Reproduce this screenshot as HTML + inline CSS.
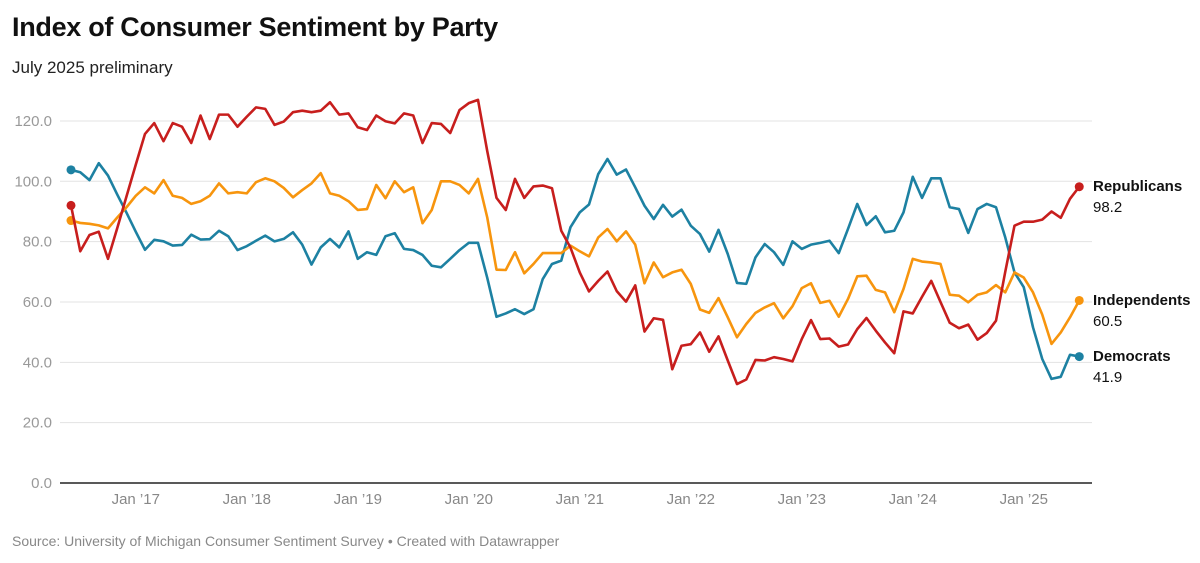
<!DOCTYPE html>
<html><head><meta charset="utf-8"><style>
body{margin:0;background:#fff;font-family:"Liberation Sans",sans-serif;}
#wrap{position:relative;width:1200px;height:563px;overflow:hidden;}
h1{position:absolute;left:12px;top:12px;margin:0;font-size:27px;font-weight:bold;color:#111;letter-spacing:-0.3px}
.sub{position:absolute;left:12px;top:58px;font-size:17px;color:#222}
.src{position:absolute;left:12px;top:533px;font-size:14px;color:#888}
</style></head><body>
<div id="wrap">
<h1>Index of Consumer Sentiment by Party</h1>
<div class="sub">July 2025 preliminary</div>
<svg id="chart" width="1200" height="563" style="position:absolute;left:0;top:0"></svg>
<div class="src">Source: University of Michigan Consumer Sentiment Survey • Created with Datawrapper</div>
</div>
<script>
const republicans=[92,76.8,82.2,83.3,74.3,84.5,95,105.5,115.7,119.3,113.3,119.3,118.1,112.7,121.8,114,122.1,122.1,
118.1,121.4,124.5,124,118.7,119.8,122.9,123.4,122.9,123.4,126.2,122.1,122.5,117.9,117,121.8,119.9,119.2,122.5,
121.8,112.7,119.3,119,116,123.6,125.9,127,110,94.5,90.5,100.8,94.5,98.3,98.6,97.7,83.6,78,
69.8,63.5,67,70.1,63.6,60.1,65.5,50.2,54.6,54.1,37.7,45.5,46,49.9,43.5,48.6,40.6,32.8,34.3,
40.8,40.6,41.7,41.1,40.3,47.7,54,47.7,47.9,45.2,45.9,51,54.7,50.5,46.6,43,56.9,56.2,
61.7,67,60,53.1,51.3,52.5,47.5,49.7,53.8,70,85.3,86.6,86.6,87.3,90,87.9,94.2,98.2];
const independents=[87,86.2,85.9,85.4,84.4,88,91.4,95.2,98,96,100.4,95.2,94.5,92.5,93.4,95.2,99.3,96,
96.4,96,99.7,101,100,97.8,94.7,97.1,99.3,102.7,96,95.2,93.4,90.5,90.8,98.8,94.4,100,96.4,
98,86.1,90.5,100,100,98.8,96,100.8,88,70.7,70.6,76.5,69.5,72.6,76.2,76.2,76.2,78.7,
76.8,75.1,81.4,84.2,80.1,83.4,79,66.2,73.1,68.2,69.8,70.7,66,57.5,56.4,61.3,54.9,48.3,52.7,
56.4,58.2,59.6,54.6,58.6,64.6,66.2,59.7,60.4,55.1,61,68.5,68.7,64,63.2,56.6,64.3,74.3,
73.4,73.1,72.6,62.4,62.1,59.9,62.4,63.2,65.6,63.2,69.8,68.1,63.2,55.8,46.1,49.9,54.9,60.5];
const democrats=[103.8,103,100.4,106,101.9,95.6,89.6,83.3,77.3,80.6,80.1,78.7,78.9,82.3,80.7,80.8,83.6,81.8,
77.2,78.5,80.3,82,80.1,80.9,83.1,79,72.4,78.1,80.9,78.1,83.4,74.3,76.5,75.6,81.8,82.8,77.6,
77.2,75.6,72,71.5,74.3,77.2,79.6,79.6,68,55.1,56.2,57.6,56,57.6,67.6,72.6,73.7,84.8,
89.7,92.3,102.4,107.4,102.2,103.9,98,91.9,87.5,92.2,88.3,90.6,85.3,82.5,76.7,83.9,75.9,66.3,66,
74.8,79.2,76.5,72.3,80.1,77.6,79,79.6,80.3,76.2,84.2,92.5,85.5,88.4,83.1,83.6,89.7,101.5,
94.5,101,101,91.4,90.8,82.9,90.8,92.5,91.4,81.4,69.8,64.9,51.6,41.1,34.5,35.2,42.5,41.9];
const yTicks=[0,20,40,60,80,100,120];
const xTickLabels=["Jan \u201917","Jan \u201918","Jan \u201919","Jan \u201920","Jan \u201921","Jan \u201922","Jan \u201923","Jan \u201924","Jan \u201925"];
const xTickMonths=[7,19,31,43,55,67,79,91,103];
const seriesNames=["Republicans","Independents","Democrats"];

const NS="http://www.w3.org/2000/svg";
const svg=document.getElementById('chart');
const x=m=>71+9.25*m;
const y=v=>483-v*3.017;
function mk(t,a){const e=document.createElementNS(NS,t);for(const k in a)e.setAttribute(k,a[k]);svg.appendChild(e);return e;}
yTicks.forEach(v=>{
  if(v>0){const g=mk('line',{x1:60,x2:1092,y1:y(v),y2:y(v),stroke:'#e3e3e3','stroke-width':1});
  
  }
  const t=mk('text',{x:52,y:y(v)+5,'text-anchor':'end','font-size':15,fill:'#999','font-family':'Liberation Sans, sans-serif'});
  t.textContent=v.toFixed(1);
  
  
});
const base=mk('line',{x1:60,x2:1092,y1:483,y2:483,stroke:'#222','stroke-width':1.5});


xTickLabels.forEach((l,i)=>{
  const t=mk('text',{x:x(xTickMonths[i]),y:504,'text-anchor':'middle','font-size':15,fill:'#888','font-family':'Liberation Sans, sans-serif'});
  t.textContent=l;
  
  
});
const colors=["#c71e1d","#f7950e","#1d81a2"];
const data=[republicans,independents,democrats];
const labelY=[186,300,356];
[2,1,0].forEach(i=>{
  const d=data[i];
  const p=mk('polyline',{points:d.map((v,m)=>x(m)+','+y(v)).join(' '),fill:'none',stroke:colors[i],'stroke-width':2.6,'stroke-linejoin':'round'});
  
  
  const c0=mk('circle',{cx:x(0),cy:y(d[0]),r:4.5,fill:colors[i]});
  
  
  const n=d.length-1;
  const c1=mk('circle',{cx:x(n),cy:y(d[n]),r:4.5,fill:colors[i]});
  
  
  const t=mk('text',{x:1093,y:labelY[i]+5,'font-size':15,'font-weight':'bold',fill:'#111','font-family':'Liberation Sans, sans-serif'});
  t.textContent=seriesNames[i];
  
  
  const tv=mk('text',{x:1093,y:labelY[i]+26,'font-size':15,fill:'#111','font-family':'Liberation Sans, sans-serif'});
  tv.textContent=d[n].toFixed(1);
  
  
});
</script>
</body></html>
